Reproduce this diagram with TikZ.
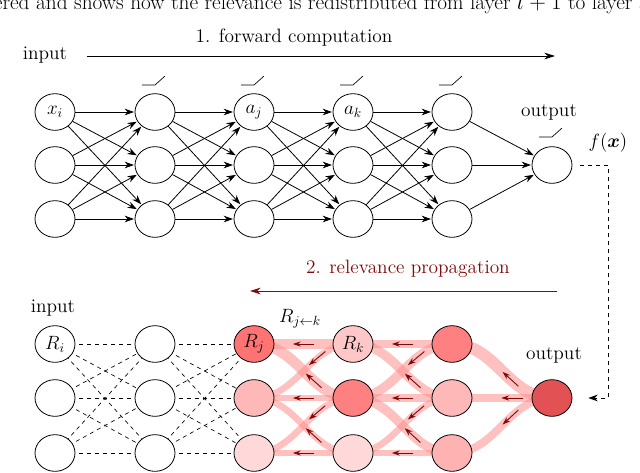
\documentclass[tikz,border=0pt]{standalone}
\usepackage{bm}
\usetikzlibrary{arrows.meta,decorations.markings,shapes.geometric}
\definecolor{dred}{RGB}{128,10,10}
\definecolor{outred}{RGB}{226,82,85}
\begin{document}
\begin{tikzpicture}[x=0.75pt,y=-0.75pt,font=\fontsize{14.5}{17}\selectfont,
  nd/.style={ellipse,draw,line width=0.6pt,minimum width=30pt,minimum height=27.5pt,inner sep=0pt},
  fw/.style={line width=0.6pt,-{Stealth[length=7pt,width=5pt]},shorten >=0.5pt},
  dl/.style={dashed,line width=0.5pt},
  band/.style 2 args={line width=#1,draw=red!45,opacity=0.55,
    postaction={decorate,decoration={markings,mark=at position #2 with {\draw[dred,opacity=1,line width=0.7pt,-{Stealth[length=6pt,width=4pt]}] (8pt,0)--(-8pt,0);}}}},
  ramp/.style={line width=0.5pt}]
\useasboundingbox (0,0) rectangle (640,472);
\begin{scope}
\clip (0,0) rectangle (640,472);
\node[anchor=north,font=\fontsize{16}{18}\selectfont] (cap) at (320,-11) {ered and shows how the relevance is redistributed from layer $l+1$ to layer $l$};
\end{scope}
% top network
\foreach \c/\x in {1/55,2/155,3/254,4/353,5/452}{
  \foreach \r/\y in {1/112,2/165,3/219}{
    \node[nd] (t\c\r) at (\x,\y) {};
  }}
\node[nd] (tout) at (552,165) {};
\node at (t11) {$x_i$};
\node at (t31) {$a_j$};
\node at (t41) {$a_k$};
\foreach \c/\n in {1/2,2/3,3/4,4/5}{
  \foreach \a in {1,2,3}{\foreach \b in {1,2,3}{
    \draw[fw] (t\c\a) -- (t\n\b);}}}
\foreach \a in {1,2,3}{\draw[fw] (t5\a) -- (tout);}
\foreach \x/\y in {155/85,254/85,353/85,452/85,552/137}{
  \draw[ramp] (\x-13,\y) -- (\x,\y) -- (\x+10,\y-9);}
\node (tin) at (45,55) {input};
\coordinate (tend) at (555,56);
\draw[line width=0.6pt,-{Stealth[length=8pt,width=5pt]}] (87,56) -- (tend);
\node (fc) at (294,38) {1. forward computation};
\node (tol) at (549,112) {output};
\node (fx) at (608,143) {$f(\bm{x})$};
% bottom network
\foreach \c/\x in {1/55,2/155,3/254,4/353,5/452}{
  \foreach \r/\y in {1/344,2/398,3/453}{
    \coordinate (p\c\r) at (\x,\y);
  }}
\coordinate (pout) at (552,398);
\foreach \c/\n in {1/2,2/3}{
  \foreach \a in {1,2,3}{\foreach \b in {1,2,3}{
    \draw[dl] (p\c\a) -- (p\n\b);}}}
% bands
\foreach \a/\b/\w/\p in {1/1/7/0.5,1/2/8/0.62,2/1/5/0.66,2/2/5/0.5,2/3/5/0.62,3/2/5/0.66,3/3/5/0.5}{
  \draw[band={\w pt}{\p}] (p3\a) to[out=0,in=180] (p4\b);}
\foreach \a/\b/\w/\p in {1/1/6/0.5,1/2/7/0.62,2/1/7/0.66,2/2/6/0.5,2/3/7/0.62,3/2/5/0.66,3/3/5/0.5}{
  \draw[band={\w pt}{\p}] (p4\a) to[out=0,in=180] (p5\b);}
\foreach \a/\w/\p in {1/9/0.6,2/6/0.6,3/6/0.6}{
  \draw[band={\w pt}{\p}] (p5\a) to[out=0,in=180] (pout);}
% nodes
\foreach \c in {1,2}{\foreach \r in {1,2,3}{\node[nd,fill=white] (b\c\r) at (p\c\r) {};}}
\foreach \c/\r/\f in {3/1/55,3/2/28,3/3/15,4/1/22,4/2/50,4/3/15,5/1/50,5/2/28,5/3/30}{
  \node[nd,fill=red!\f] (b\c\r) at (p\c\r) {};}
\node[nd,fill=outred] (bout) at (pout) {};
\node at (b11) {$R_i$};
\node at (b31) {$R_j$};
\node at (b41) {$R_k$};
\node (rjk) at (300,319) {$R_{j\leftarrow k}$};
\node (bin) at (53,308) {input};
\node (bol) at (554,355) {output};
\node[text=dred] (rp) at (408,269) {2. relevance propagation};
\coordinate (rs) at (557,291);
\coordinate (re) at (250,291);
\draw[dred,line width=0.7pt,-{Stealth[length=8pt,width=5pt]}] (rs) -- (re);
\coordinate (d1) at (580,165);
\coordinate (d2) at (608,165);
\coordinate (d3) at (608,398);
\draw[dl,-{Stealth[length=7pt,width=5pt]}] (d1) -- (d2) -- (d3) -- ([xshift=12pt]bout.east);
\end{tikzpicture}
\end{document}
